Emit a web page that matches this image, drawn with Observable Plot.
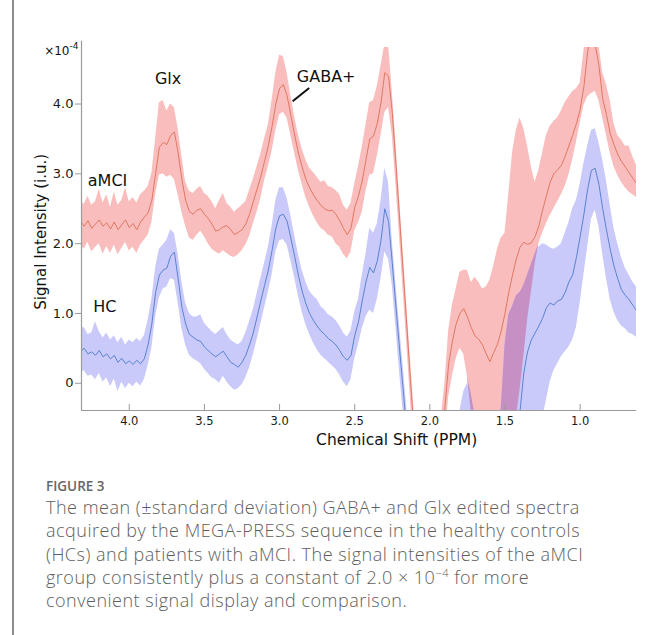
<!DOCTYPE html>
<html><head><meta charset="utf-8">
<script src="https://cdn.jsdelivr.net/npm/d3@7"></script>
<script src="https://cdn.jsdelivr.net/npm/@observablehq/plot@0.6"></script>
<style>
body{margin:0;background:#fff;}
#page{position:relative;width:654px;height:635px;overflow:hidden;background:#fff;}
#chart{position:absolute;left:0;top:0;}
#border{position:absolute;left:12px;top:0;width:2px;height:635px;background:#8c8c8c;z-index:5;}
#cap{position:absolute;left:46px;top:476px;font-family:"Open Sans",sans-serif;color:#5e5e5e;white-space:nowrap;}
#fig{font-size:13.5px;font-weight:600;color:#666;line-height:20px;}
#txt{font-size:18px;font-weight:300;letter-spacing:0.5px;line-height:23.3px;}
#txt sup{font-size:11px;line-height:0;}
</style></head>
<body><div id="page"><div id="chart"></div><div id="border"></div>
<div id="cap"><div id="fig">FIGURE 3</div><div id="txt">The mean (±standard deviation) GABA+ and Glx edited spectra<br>acquired by the MEGA-PRESS sequence in the healthy controls<br>(HCs) and patients with aMCI. The signal intensities of the aMCI<br>group consistently plus a constant of 2.0 × 10<sup>−4</sup> for more<br>convenient signal display and comparison.</div></div>
</div>
<script>
const ppm = [4.325,4.3,4.275,4.25,4.225,4.2,4.175,4.15,4.125,4.1,
4.075,4.05,4.025,4.0,3.975,3.95,3.925,3.9,3.875,3.85,
3.825,3.8,3.775,3.75,3.725,3.7,3.675,3.65,3.625,3.6,
3.575,3.55,3.525,3.5,3.475,3.45,3.425,3.4,3.375,3.35,
3.325,3.3,3.275,3.25,3.225,3.2,3.175,3.15,3.125,3.1,
3.075,3.05,3.025,3.0,2.975,2.95,2.925,2.9,2.875,2.85,
2.825,2.8,2.775,2.75,2.725,2.7,2.675,2.65,2.625,2.6,
2.575,2.55,2.525,2.5,2.475,2.45,2.425,2.4,2.375,2.35,
2.325,2.3,2.275,2.25,2.225,2.2,2.175,2.15,2.125,2.1,
2.075,2.05,2.025,2.0,1.975,1.95,1.925,1.9,1.875,1.85,
1.825,1.8,1.775,1.75,1.725,1.7,1.675,1.65,1.625,1.6,
1.575,1.55,1.525,1.5,1.475,1.45,1.425,1.4,1.375,1.35,
1.325,1.3,1.275,1.25,1.225,1.2,1.175,1.15,1.125,1.1,
1.075,1.05,1.025,1.0,0.975,0.95,0.925,0.9,0.875,0.85,
0.825,0.8,0.775,0.75,0.725,0.7,0.675,0.65,0.625];

// aMCI (offset +2.0e-4), units of 1e-4
const amciMean = [2.32,2.25,2.33,2.22,2.28,2.34,2.25,2.30,2.21,2.31,
2.20,2.27,2.34,2.23,2.29,2.20,2.31,2.38,2.44,2.62,
3.00,3.38,3.45,3.42,3.55,3.60,3.30,2.92,2.62,2.46,
2.42,2.48,2.50,2.42,2.36,2.28,2.18,2.20,2.24,2.26,
2.20,2.13,2.16,2.20,2.28,2.42,2.60,2.78,2.96,3.18,
3.40,3.68,4.00,4.22,4.28,4.12,3.84,3.56,3.30,3.10,
2.92,2.80,2.70,2.62,2.55,2.50,2.47,2.48,2.42,2.33,
2.22,2.13,2.22,2.52,2.68,2.90,3.20,3.50,3.54,3.72,
4.02,4.45,4.40,3.88,3.12,2.32,1.52,0.72,-0.08,-0.85,
-1.6,-2.0,-2.2,-2.2,-2.0,-1.6,-1.0,-0.35,0.28,0.60,
0.85,1.00,1.07,0.95,0.80,0.68,0.63,0.55,0.42,0.31,
0.44,0.56,0.75,1.00,1.30,1.55,1.78,1.95,2.02,1.99,
2.01,2.10,2.25,2.48,2.68,2.88,3.00,3.06,3.12,3.25,
3.40,3.55,3.72,3.92,4.25,4.75,5.05,4.85,4.55,4.08,
3.85,3.58,3.42,3.28,3.18,3.10,3.02,2.94,2.86];
const amciUpper = [2.62,2.56,2.68,2.55,2.60,2.78,2.58,2.70,2.52,2.74,
2.55,2.62,2.80,2.60,2.66,2.58,2.70,2.75,2.82,3.00,
3.50,4.02,4.05,3.90,4.00,3.95,3.65,3.25,2.88,2.75,
2.72,2.78,2.82,2.72,2.68,2.60,2.50,2.62,2.72,2.58,
2.52,2.45,2.50,2.55,2.60,2.76,2.92,3.10,3.28,3.50,
3.70,4.05,4.45,4.70,4.68,4.45,4.12,3.82,3.56,3.36,
3.20,3.08,3.02,2.95,2.88,2.90,2.82,2.80,2.76,2.70,
2.55,2.48,2.58,2.85,3.10,3.38,3.70,4.02,4.05,4.25,
4.55,4.85,4.85,4.18,3.42,2.60,1.80,1.00,0.22,-0.55,
-1.3,-1.7,-1.9,-1.9,-1.6,-1.1,-0.5,0.0,0.75,1.12,
1.35,1.59,1.62,1.62,1.44,1.52,1.45,1.35,1.38,1.48,
1.68,1.92,2.08,2.15,2.70,3.30,3.62,3.80,3.65,3.40,
3.10,2.88,3.05,3.30,3.55,3.68,3.75,3.80,3.90,4.02,
4.10,4.18,4.22,4.30,4.75,5.20,5.50,5.30,4.85,4.45,
4.28,4.05,3.72,3.55,3.48,3.40,3.40,3.25,3.12];
const amciLower = [1.98,1.92,2.02,1.88,1.95,2.00,1.85,1.96,1.86,1.98,
1.84,1.93,2.02,1.90,1.95,1.86,1.98,2.05,2.12,2.30,
2.70,2.98,3.00,2.95,2.98,2.92,2.70,2.45,2.25,2.08,
2.05,2.12,2.18,2.10,2.00,1.92,1.88,1.85,1.90,1.86,
1.82,1.80,1.84,1.90,1.98,2.10,2.28,2.45,2.64,2.90,
3.10,3.32,3.62,3.85,3.88,3.80,3.55,3.30,3.05,2.85,
2.66,2.52,2.40,2.30,2.22,2.18,2.12,2.10,2.00,1.95,
1.85,1.78,1.88,2.18,2.30,2.45,2.75,2.98,3.00,3.25,
3.55,3.88,3.95,3.55,2.82,2.04,1.24,0.44,-0.36,-1.15,
-1.9,-2.3,-2.5,-2.5,-2.3,-1.9,-1.4,-0.9,-0.20,0.10,
0.35,0.50,0.42,0.10,-0.40,-0.80,-0.9,-0.9,-0.9,-0.9,
-0.9,-0.9,-0.9,-0.9,-0.9,-0.8,-0.5,-0.10,0.38,0.90,
1.30,1.70,2.00,2.15,2.28,2.40,2.50,2.60,2.70,2.82,
2.98,3.20,3.45,3.72,3.98,4.10,4.15,4.18,4.05,3.80,
3.55,3.30,3.10,2.98,2.88,2.80,2.74,2.70,2.66];

// HC
const hcMean = [0.46,0.50,0.42,0.45,0.40,0.47,0.38,0.42,0.35,0.40,
0.30,0.36,0.28,0.32,0.27,0.33,0.28,0.35,0.55,0.85,
1.30,1.55,1.62,1.65,1.82,1.88,1.50,1.09,0.85,0.70,
0.66,0.62,0.60,0.52,0.47,0.42,0.38,0.42,0.46,0.38,
0.30,0.27,0.23,0.30,0.40,0.55,0.72,0.95,1.18,1.40,
1.62,1.90,2.22,2.40,2.42,2.32,2.08,1.82,1.55,1.32,
1.14,1.00,0.90,0.82,0.75,0.70,0.64,0.60,0.55,0.47,
0.38,0.33,0.40,0.68,0.88,1.18,1.45,1.66,1.58,1.75,
2.05,2.50,2.32,1.72,1.08,0.45,-0.15,-0.8,-1.3,-1.8,
-2.2,-2.5,-2.6,-2.6,-2.6,-2.5,-2.4,-2.3,-2.2,-2.1,
-1.9,-1.6,-1.3,-1.2,-1.3,-1.6,-1.8,-1.9,-1.9,-1.8,
-1.7,-1.6,-1.5,-1.3,-1.1,-0.95,-0.75,-0.40,0.15,0.45,
0.62,0.72,0.82,0.93,1.08,1.15,1.12,1.18,1.20,1.30,
1.45,1.55,1.80,2.10,2.42,2.78,3.05,3.08,2.85,2.50,
2.20,1.92,1.68,1.50,1.34,1.26,1.20,1.12,1.04];
const hcUpper = [0.78,0.80,0.70,0.72,0.88,0.74,0.65,0.72,0.62,0.68,
0.58,0.66,0.55,0.62,0.58,0.64,0.60,0.68,0.90,1.20,
1.65,1.92,1.98,2.05,2.20,2.15,1.85,1.45,1.15,1.00,
0.95,0.95,0.98,0.86,0.80,0.74,0.70,0.75,0.80,0.70,
0.62,0.58,0.55,0.60,0.72,0.88,1.05,1.28,1.50,1.72,
1.95,2.25,2.62,2.80,2.80,2.65,2.40,2.12,1.85,1.62,
1.45,1.32,1.25,1.20,1.10,1.05,0.98,0.95,0.90,0.82,
0.72,0.66,0.75,1.02,1.20,1.55,1.85,2.22,2.15,2.28,
2.62,3.08,2.88,2.05,1.40,0.78,0.18,-0.45,-1.0,-1.5,
-1.8,-2.0,-2.1,-2.1,-2.0,-1.9,-1.8,-1.7,-1.5,-1.1,
-0.75,-0.4,-0.12,0.0,-0.15,-0.45,-0.9,-1.2,-1.2,-1.1,
-0.9,-0.7,-0.35,0.55,0.98,1.10,1.25,1.30,1.40,1.55,
1.70,1.85,1.95,2.00,1.98,1.94,1.92,1.95,2.00,2.15,
2.30,2.50,2.62,2.85,3.15,3.40,3.62,3.65,3.45,3.20,
2.90,2.55,2.22,2.00,1.80,1.65,1.55,1.45,1.38];
const hcLower = [0.15,0.18,0.10,0.12,0.05,0.14,0.02,0.08,-0.05,0.06,
-0.12,0.02,-0.08,0.00,-0.05,0.02,-0.04,0.05,0.25,0.50,
0.95,1.22,1.35,1.38,1.50,1.48,1.15,0.78,0.55,0.40,
0.35,0.32,0.28,0.20,0.14,0.08,0.05,0.00,0.10,0.02,
-0.05,-0.10,-0.08,-0.02,0.08,0.22,0.40,0.62,0.85,1.08,
1.30,1.55,1.88,2.04,2.06,1.98,1.76,1.52,1.25,1.02,
0.84,0.70,0.58,0.48,0.40,0.35,0.30,0.25,0.20,0.12,
0.02,-0.05,0.05,0.35,0.55,0.78,0.95,1.05,1.00,1.20,
1.50,1.88,1.78,1.40,0.78,0.12,-0.48,-1.1,-1.6,-2.1,
-2.5,-2.8,-2.9,-2.9,-2.9,-2.8,-2.7,-2.6,-2.5,-2.4,
-2.3,-2.2,-2.1,-2.0,-2.0,-2.1,-2.2,-2.3,-2.3,-2.3,
-2.2,-2.1,-2.0,-1.9,-1.8,-1.7,-1.6,-1.5,-1.4,-1.3,
-1.2,-1.0,-0.8,-0.5,-0.25,0.02,0.18,0.28,0.38,0.45,
0.52,0.62,0.80,1.15,1.55,1.95,2.35,2.48,2.25,1.85,
1.50,1.20,1.02,0.90,0.82,0.78,0.72,0.70,0.66];

const xDomain = [4.318, 0.625];
const yDomain = [-0.39, 4.81];
const yAxisTop = 4.9;
const xTicks = [4.0, 3.5, 3.0, 2.5, 2.0, 1.5, 1.0];
const xTickLabels = ["4.0", "3.5", "3.0", "2.5", "2.0", "1.5", "1.0"];
const yTicks = [0, 1, 2, 3, 4];
const yTickLabels = ["0", "1.0", "2.0", "3.0", "4.0"];

const labelText = ["Glx", "GABA+", "aMCI", "HC"];
const labelX = [3.742, 2.885, 4.276, 4.24];
const labelY = [4.36, 4.39, 2.90, 1.09];
const labelAnchor = ["middle", "start", "start", "start"];
const pointerX = [2.913, 2.803];
const pointerY = [4.04, 4.23];

const xTitle = "Chemical Shift (PPM)";
const xTitlePos = 2.221;
const yTitle = "Signal Intensity (i.u.)";
const yTitlePos = 2.17;

const rows = ppm.map((x, i) => {
  const lo = Math.max(amciLower[i], hcLower[i]);
  const hi = Math.min(amciUpper[i], hcUpper[i]);
  return {x, am: amciMean[i], al: amciLower[i], au: amciUpper[i],
    hm: hcMean[i], hl: hcLower[i], hu: hcUpper[i],
    ol: lo, oh: hi > lo ? hi : lo};
});
const labels = labelText.map((t, i) => ({t, x: labelX[i], y: labelY[i], a: labelAnchor[i]}));

const chart = Plot.plot({
  width: 654, height: 460,
  marginLeft: 81, marginRight: 18, marginTop: 47, marginBottom: 50,
  x: {domain: xDomain},
  y: {domain: yDomain},
  style: {fontFamily: "'DejaVu Sans', sans-serif", background: "white", color: "#1a1a1a", overflow: "visible"},
  marks: [
    Plot.areaY(rows, {x: "x", y1: "al", y2: "au", fill: "#fabdbd", clip: true}),
    Plot.areaY(rows, {x: "x", y1: "hl", y2: "hu", fill: "#c9c9fa", clip: true}),
    Plot.areaY(rows, {x: "x", y1: "ol", y2: "oh", fill: "#c690c4", clip: true}),
    Plot.lineY(rows, {x: "x", y: "am", stroke: "#e07862", strokeWidth: 1, clip: true}),
    Plot.lineY(rows, {x: "x", y: "hm", stroke: "#5a84d0", strokeWidth: 1, clip: true}),
    Plot.ruleY([yDomain[0]], {stroke: "#9a9a9a", strokeWidth: 1.2}),
    Plot.ruleX([xDomain[0]], {y1: yDomain[0], y2: yAxisTop, stroke: "#9a9a9a", strokeWidth: 1.2}),
    Plot.axisY({ticks: yTicks, tickFormat: d => yTickLabels[yTicks.indexOf(d)], tickSize: 6, tickPadding: 2,
      fontSize: 13, stroke: "#9a9a9a", fill: "#1a1a1a", label: null}),
    Plot.axisX({ticks: xTicks, tickFormat: d => xTickLabels[xTicks.indexOf(d)], tickSize: -6, tickPadding: 12,
      fontSize: 11.5, stroke: "#9a9a9a", fill: "#1a1a1a", label: null}),
    Plot.text(labels.filter(d => d.a === "middle"), {x: "x", y: "y", text: "t", textAnchor: "middle", fontSize: 16, fill: "#111"}),
    Plot.text(labels.filter(d => d.a === "start"), {x: "x", y: "y", text: "t", textAnchor: "start", fontSize: 16, fill: "#111"}),
    Plot.link([0], {x1: () => pointerX[0], y1: () => pointerY[0], x2: () => pointerX[1], y2: () => pointerY[1], stroke: "#111", strokeWidth: 2}),
    Plot.text([xTitle], {x: xTitlePos, frameAnchor: "bottom", lineAnchor: "middle", textAnchor: "middle", dy: 30, fontSize: 15.5, fill: "#111"}),
    Plot.text([yTitle], {y: yTitlePos, frameAnchor: "left", lineAnchor: "middle", textAnchor: "middle", dx: -40, rotate: -90, fontSize: 15, fill: "#111"}),
    Plot.text(["×10"], {frameAnchor: "top-left", lineAnchor: "middle", textAnchor: "end", dx: -12, dy: 4, fontSize: 12, fill: "#111"}),
    Plot.text(["-4"], {frameAnchor: "top-left", lineAnchor: "middle", textAnchor: "start", dx: -12, dy: -1, fontSize: 9, fill: "#111"})
  ]
});
document.getElementById("chart").appendChild(chart);
</script>
</body></html>
